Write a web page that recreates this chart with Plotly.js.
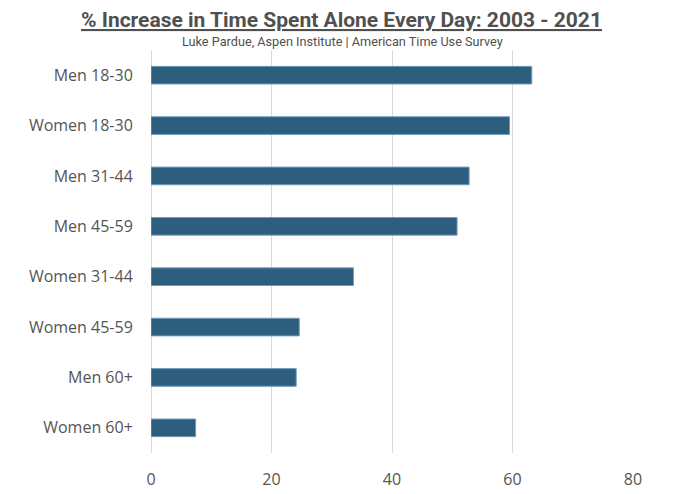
<!DOCTYPE html>
<html>
<head>
<meta charset="utf-8">
<script src="https://cdn.plot.ly/plotly-3.0.1.min.js"></script>
<style>
  html, body {margin: 0; padding: 0; background: #fff;}
  #chart {width: 680px; height: 494px;}
</style>
</head>
<body>
<div id="chart"></div>
<script>
// groups, top to bottom as shown
var groups = ["Men 18-30", "Women 18-30", "Men 31-44", "Men 45-59",
              "Women 31-44", "Women 45-59", "Men 60+", "Women 60+"];
// % increase in daily time spent alone, 2003 -> 2021
var pctIncrease = [63.2, 59.5, 52.8, 50.8, 33.6, 24.6, 24.1, 7.4];
var xTicks = [0, 20, 40, 60, 80];

var bars = {
   type: "bar",
   orientation: "h",
   x: pctIncrease,
   y: groups,
   width: 0.35,
   marker: {color: "#2e5e7e", line: {color: "#6f9bbb", width: 1}},
   hoverinfo: "x+y"
};

var layout = {
   width: 680,
   height: 494,
   margin: {l: 151, r: 47, t: 50, b: 41},
   paper_bgcolor: "#fff",
   plot_bgcolor: "#fff",
   showlegend: false,
   font: {family: "Open Sans, Noto Sans, sans-serif", color: "#555"},
   xaxis: {
      range: [0, 80],
      tickvals: xTicks,
      showgrid: true,
      gridcolor: "#d9d9d9",
      gridwidth: 1,
      zeroline: true,
      zerolinecolor: "#d9d9d9",
      zerolinewidth: 1,
      showline: false,
      ticks: "outside",
      ticklen: 12,
      tickcolor: "rgba(0,0,0,0)",
      tickfont: {size: 16, color: "#555"},
      fixedrange: true
   },
   yaxis: {
      autorange: "reversed",
      showgrid: false,
      zeroline: false,
      showline: false,
      ticks: "outside",
      ticklen: 14,
      tickcolor: "rgba(0,0,0,0)",
      tickfont: {size: 16, color: "#555"},
      fixedrange: true
   },
   annotations: [
      {text: "<b>% Increase in Time Spent Alone Every Day: 2003 - 2021</b>",
       xref: "paper", yref: "paper", x: 0.395, y: 1, yshift: 30,
       xanchor: "center", yanchor: "middle", showarrow: false,
       font: {family: "Roboto, sans-serif",
              size: 21, color: "#505050", lineposition: "under"}},
      {text: "Luke Pardue, Aspen Institute | American Time Use Survey",
       xref: "paper", yref: "paper", x: 0.397, y: 1, yshift: 9,
       xanchor: "center", yanchor: "middle", showarrow: false,
       font: {family: "Roboto, sans-serif", size: 12.7, color: "#505050"}}
   ]
};

Plotly.newPlot("chart", [bars], layout, {displayModeBar: false, staticPlot: true});
</script>
</body>
</html>
